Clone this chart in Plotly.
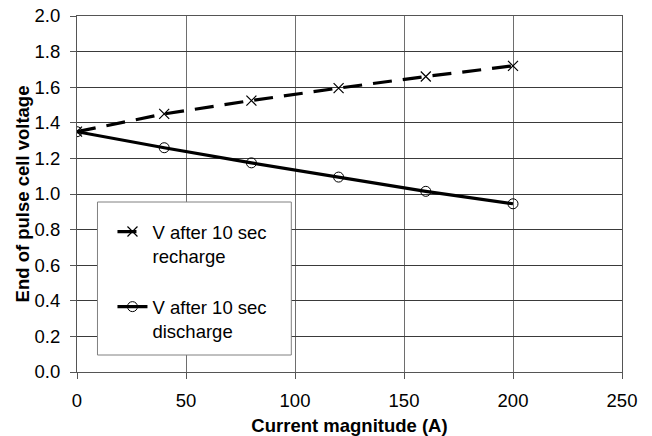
import plotly.graph_objects as go

current = [0, 40, 80, 120, 160, 200]
v_recharge = [1.35, 1.45, 1.525, 1.595, 1.66, 1.72]
v_discharge = [1.35, 1.26, 1.175, 1.095, 1.015, 0.945]
name_recharge = "V after 10 sec<br>recharge"
name_discharge = "V after 10 sec<br>discharge"
x_ticks = [0, 50, 100, 150, 200, 250]
y_ticks = [0.0, 0.2, 0.4, 0.6, 0.8, 1.0, 1.2, 1.4, 1.6, 1.8, 2.0]

FONT = "Liberation Sans, Arial, sans-serif"
FS = 18.5

fig = go.Figure()
fig.add_trace(go.Scatter(
    x=current, y=v_recharge, name=name_recharge, mode="lines+markers", legendgroup="rc",
    line=dict(color="black", width=3.2, dash="19px,11px"),
    marker=dict(symbol="x-thin-open", size=10, color="black", line=dict(width=1.2, color="black")),
))
fig.add_trace(go.Scatter(
    x=current, y=v_discharge, name=name_discharge, mode="lines+markers", legendgroup="dc",
    line=dict(color="black", width=3.2),
    marker=dict(symbol="circle-open", size=10, color="black", line=dict(width=1, color="black")),
))

W, H = 652, 436
L, R, T, B = 76.5, 30, 16, 64
pw, ph = W - L - R, H - T - B

def px2paper_x(px):
    return (px - L) / pw

def px2paper_y(py):
    return (H - B - py) / ph

fig.add_shape(type="rect", xref="paper", yref="paper",
              x0=px2paper_x(97), x1=px2paper_x(291), y0=px2paper_y(355), y1=px2paper_y(202),
              line=dict(color="#808080", width=1), fillcolor="white", layer="above")

fig.update_layout(
    width=W, height=H,
    margin=dict(l=L, r=R, t=T, b=B, pad=0, autoexpand=False),
    plot_bgcolor="white", paper_bgcolor="white",
    font=dict(family=FONT, size=FS, color="black"),
    showlegend=True,
    legend=dict(x=px2paper_x(112), y=px2paper_y(213), xanchor="left", yanchor="top",
                bgcolor="rgba(0,0,0,0)", borderwidth=0, valign="top",
                font=dict(family=FONT, size=FS, color="black"),
                traceorder="grouped", tracegroupgap=24, itemwidth=30),
    xaxis=dict(range=[0, 250], tickvals=x_ticks, ticktext=[str(v) for v in x_ticks],
               showgrid=True, gridcolor="#6e6e6e", gridwidth=1,
               showline=True, linecolor="#555555", linewidth=1, mirror=True,
               ticks="outside", ticklen=6, tickcolor="#555555",
               zeroline=False, ticklabelstandoff=6, automargin=False,
               title=dict(text="<b>Current magnitude (A)</b>", font=dict(size=FS), standoff=8),
               tickfont=dict(size=FS)),
    yaxis=dict(range=[0, 2.0], tickvals=y_ticks, ticktext=[f"{v:.1f}" for v in y_ticks],
               showgrid=True, gridcolor="#3a3a3a", gridwidth=1,
               showline=True, linecolor="#555555", linewidth=1, mirror=True,
               ticks="outside", ticklen=6, tickcolor="#555555",
               zeroline=False, ticklabelstandoff=6, automargin=False,
               title=dict(text="<b>End of pulse cell voltage</b>", font=dict(size=FS), standoff=0),
               tickfont=dict(size=FS)),
)

fig.write_html("out.html")
